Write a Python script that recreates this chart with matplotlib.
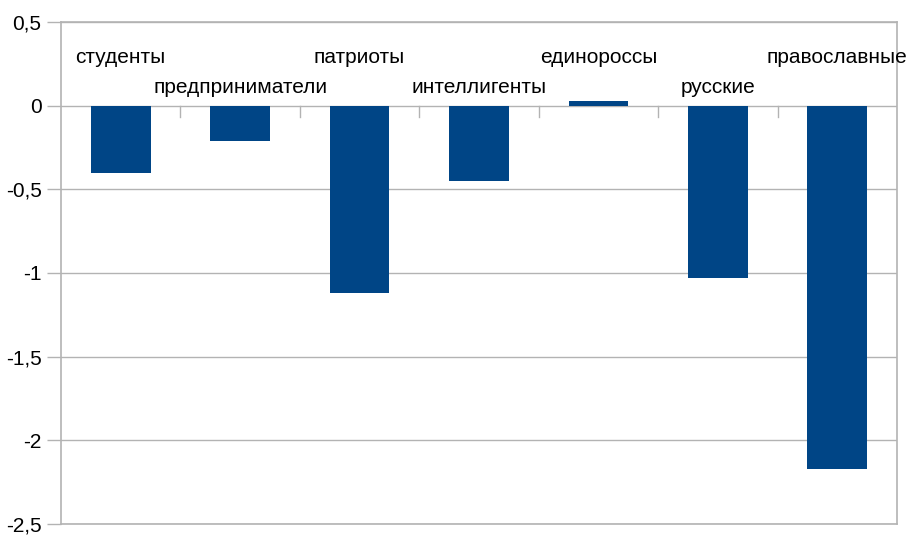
import matplotlib
matplotlib.use('Agg')
import matplotlib.pyplot as plt
from matplotlib.ticker import FuncFormatter, MultipleLocator
import numpy as np

plt.rcParams['font.family'] = ['Liberation Sans', 'DejaVu Sans']

categories = ['студенты', 'предприниматели', 'патриоты', 'интеллигенты',
              'единороссы', 'русские', 'православные']
values = [-0.40, -0.21, -1.12, -0.45, 0.025, -1.03, -2.17]

fig = plt.figure(figsize=(9.09, 5.35), dpi=100)
ax = fig.add_axes([61/909, 1 - 524/535, (897-61)/909, (524-22)/535])

x = np.arange(len(categories))
ax.bar(x, values, width=0.5, color='#004586', zorder=3)

ax.set_xlim(-0.5, len(categories) - 0.5)
ax.set_ylim(-2.5, 0.5)
ax.yaxis.set_major_locator(MultipleLocator(0.5))
ax.yaxis.set_major_formatter(FuncFormatter(lambda v, p: ('%g' % v).replace('.', ',')))
ax.grid(axis='y', color='#b3b3b3', linewidth=1, zorder=0)
ax.tick_params(axis='y', length=10, width=1, color='#b3b3b3', labelsize=15, pad=4)
ax.set_xticks([])
for s in ax.spines.values():
    s.set_color('#b3b3b3')
    s.set_linewidth(1.2)

# category separators hanging from the zero line
for b in np.arange(0.5, len(categories) - 0.5, 1.0):
    ax.plot([b, b], [0, -0.07], color='#b3b3b3', linewidth=1, zorder=2)

# staggered category labels
for i, name in enumerate(categories):
    y = 0.29 if i % 2 == 0 else 0.11
    ax.text(i, y, name, ha='center', va='center', fontsize=15, color='black')

fig.savefig('out.png', dpi=100)
